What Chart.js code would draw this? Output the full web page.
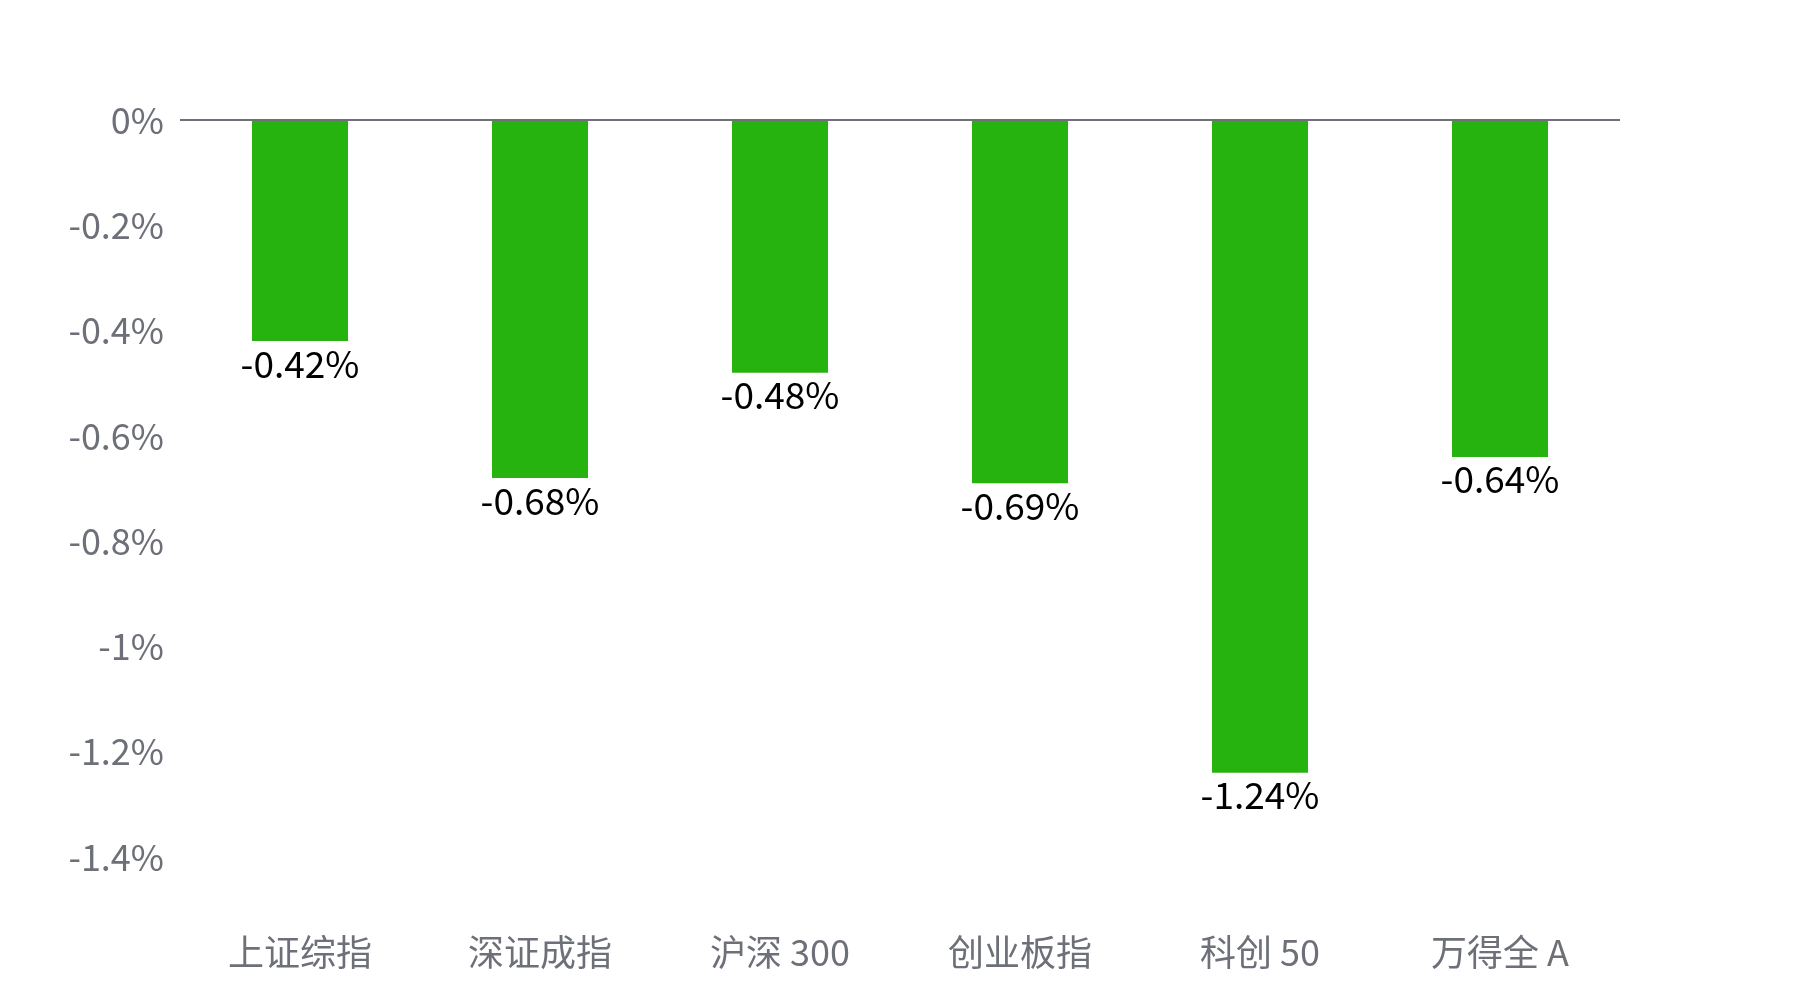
<!DOCTYPE html>
<html>
<head>
<meta charset="utf-8">
<script src="https://cdn.jsdelivr.net/npm/chart.js@4"></script>
<style>
  html, body { margin: 0; padding: 0; background: #fff; }
  #wrap { width: 1800px; height: 1000px; }
</style>
</head>
<body>
<div id="wrap"><canvas id="myChart" width="1800" height="1000"></canvas></div>
<script>
const categories = ['上证综指', '深证成指', '沪深 300', '创业板指', '科创 50', '万得全 A'];
const changes = [-0.42, -0.68, -0.48, -0.69, -1.24, -0.64];
const yMin = -1.4;
const yMax = 0;
const yStep = 0.2;

const fontFamily = '"Segoe UI", "Noto Sans CJK SC", "Noto Sans", sans-serif';

const valueLabels = {
  id: 'valueLabels',
  afterDatasetsDraw(chart) {
    const ctx = chart.ctx;
    const meta = chart.getDatasetMeta(0);
    ctx.save();
    ctx.font = '37px ' + fontFamily;
    ctx.fillStyle = '#000000';
    ctx.textAlign = 'center';
    ctx.textBaseline = 'top';
    meta.data.forEach((bar, i) => {
      ctx.fillText(changes[i].toFixed(2) + '%', bar.x, bar.y + 4);
    });
    ctx.restore();
  }
};

const ctx = document.getElementById('myChart');

new Chart(ctx, {
  type: 'bar',
  data: {
    labels: categories,
    datasets: [{
      data: changes,
      backgroundColor: '#27b30f',
      borderWidth: 0,
      barPercentage: 0.4,
      categoryPercentage: 1
    }]
  },
  options: {
    responsive: false,
    animation: false,
    layout: {
      padding: { top: 120, right: 180, bottom: 0, left: 0 }
    },
    scales: {
      x: {
        grid: { display: false },
        border: { display: false },
        ticks: {
          color: '#6e7079',
          font: { size: 36, family: fontFamily },
          padding: 66
        },
        afterFit(scale) { scale.height = 143; }
      },
      y: {
        min: yMin,
        max: yMax,
        border: { display: false },
        grid: {
          drawTicks: false,
          lineWidth: 2,
          color: (c) => (c.tick && c.tick.value === 0 ? '#6e7079' : 'rgba(0,0,0,0)')
        },
        ticks: {
          stepSize: yStep,
          color: '#6e7079',
          font: { size: 36, family: fontFamily },
          padding: 16,
          callback: (v) => parseFloat(v.toFixed(1)) + '%'
        },
        afterFit(scale) { scale.width = 180; }
      }
    },
    plugins: {
      legend: { display: false },
      tooltip: { enabled: false }
    }
  },
  plugins: [valueLabels]
});
</script>
</body>
</html>
